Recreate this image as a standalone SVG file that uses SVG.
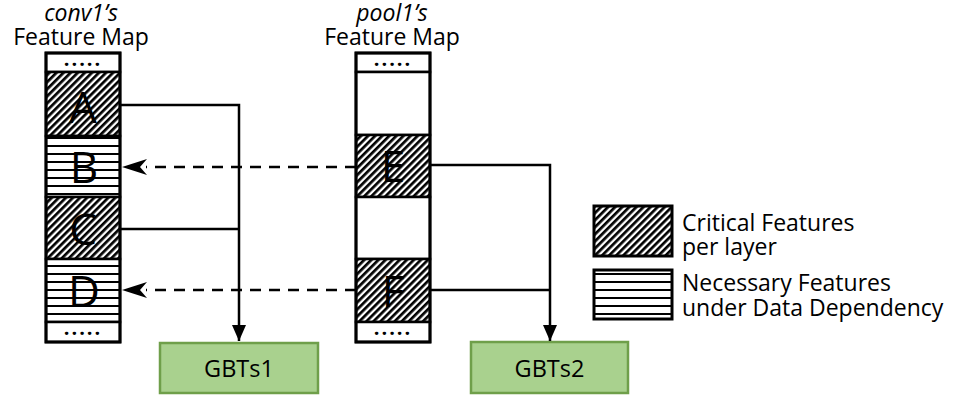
<svg xmlns="http://www.w3.org/2000/svg" width="958" height="398" viewBox="0 0 958 398">
<defs>
<pattern id="hatch" patternUnits="userSpaceOnUse" width="5" height="5" patternTransform="rotate(45)">
<rect width="5" height="5" fill="#fff"/>
<rect x="0" y="0" width="2.7" height="5" fill="#000"/>
</pattern>
<pattern id="stripes" patternUnits="userSpaceOnUse" width="10" height="8" y="1">
<rect width="10" height="8" fill="#fff"/>
<rect x="0" y="0" width="10" height="2" fill="#000"/>
</pattern>
<marker id="tri" viewBox="0 0 16 14" refX="16" refY="7" markerWidth="16" markerHeight="14" markerUnits="userSpaceOnUse" orient="auto">
<path d="M0,0 L16,7 L0,14 Z" fill="#000"/>
</marker>
</defs>
<style>
text{font-family:"Open Sans","DejaVu Sans",sans-serif;fill:#000}
.title{font-size:23px;text-anchor:middle}
.it{font-style:italic}
.big{font-size:44px;text-anchor:middle}
.dots{font-size:20px;font-weight:bold;text-anchor:middle;letter-spacing:2px}
.leg{font-size:23px}
.cell{stroke:#000;stroke-width:2.5}
.frame{fill:none;stroke:#000;stroke-width:3}
.conn{fill:none;stroke:#000;stroke-width:2.5}
.dash{fill:none;stroke:#000;stroke-width:2.5;stroke-dasharray:11 8}
.gbt{fill:#a9d18e;stroke:#6f9f4a;stroke-width:2.5}
.gbtt{font-size:23.5px;text-anchor:middle}
</style>
<rect width="958" height="398" fill="#fff"/>

<g id="conv1">
<text class="title it" x="81" y="21">conv1’s</text>
<text class="title" x="81" y="45">Feature Map</text>
<rect class="cell" x="46" y="53" width="74" height="19" fill="#fff"/>
<text class="dots" x="83" y="66">.....</text>
<rect class="cell" x="46" y="72" width="74" height="64" fill="url(#hatch)"/>
<text class="big" x="83" y="123">A</text>
<rect class="cell" x="46" y="136" width="74" height="61" fill="url(#stripes)"/>
<text class="big" x="84" y="183">B</text>
<rect class="cell" x="46" y="197" width="74" height="62" fill="url(#hatch)"/>
<text class="big" x="83" y="245">C</text>
<rect class="cell" x="46" y="259" width="74" height="63" fill="url(#stripes)"/>
<text class="big" x="84" y="307">D</text>
<rect class="cell" x="46" y="322" width="74" height="20" fill="#fff"/>
<text class="dots" x="83" y="335">.....</text>
<rect class="frame" x="46" y="53" width="74" height="289"/>
</g>

<g id="pool1">
<text class="title it" x="392" y="21">pool1’s</text>
<text class="title" x="392" y="45">Feature Map</text>
<rect class="cell" x="356" y="53" width="74" height="19" fill="#fff"/>
<text class="dots" x="393" y="66">.....</text>
<rect class="cell" x="356" y="72" width="74" height="63" fill="#fff"/>
<rect class="cell" x="356" y="135" width="74" height="62" fill="url(#hatch)"/>
<text class="big" x="393" y="182">E</text>
<rect class="cell" x="356" y="197" width="74" height="62" fill="#fff"/>
<rect class="cell" x="356" y="259" width="74" height="63" fill="url(#hatch)"/>
<text class="big" x="393" y="307">F</text>
<rect class="cell" x="356" y="322" width="74" height="20" fill="#fff"/>
<text class="dots" x="393" y="335">.....</text>
<rect class="frame" x="356" y="53" width="74" height="289"/>
</g>

<g id="gbts1">
<rect class="gbt" x="160" y="343" width="158" height="50"/>
<text class="gbtt" x="239" y="377">GBTs1</text>
</g>
<g id="gbts2">
<rect class="gbt" x="471" y="342" width="157" height="51"/>
<text class="gbtt" x="549.5" y="377">GBTs2</text>
</g>

<g id="legend">
<rect x="594" y="206" width="78" height="50" fill="url(#hatch)" stroke="#000" stroke-width="3"/>
<text class="leg" x="682" y="231">Critical Features</text>
<text class="leg" x="682" y="255">per layer</text>
<rect x="594" y="270" width="78" height="49" fill="url(#stripes)" stroke="#000" stroke-width="3"/>
<text class="leg" x="682" y="291">Necessary Features</text>
<text class="leg" x="682" y="316">under Data Dependency</text>
</g>

<g id="connectors">
<path class="conn" d="M120,105 H239 V341" marker-end="url(#tri)"/>
<path class="conn" d="M120,229 H239"/>
<path class="conn" d="M430,165 H550 V341" marker-end="url(#tri)"/>
<path class="conn" d="M430,290 H550"/>
<path class="dash" d="M356,167 H146"/>
<path d="M122,167 L147,159 L140,167 L147,175 Z" fill="#000"/>
<path class="dash" d="M356,290 H146"/>
<path d="M122,290 L147,282 L140,290 L147,298 Z" fill="#000"/>
</g>
</svg>
